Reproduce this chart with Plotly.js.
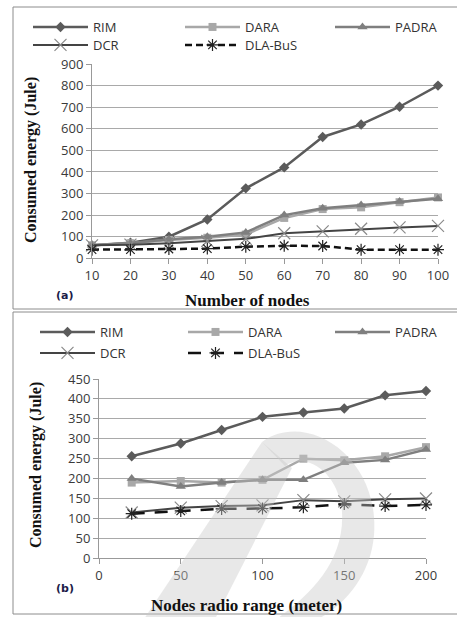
<!DOCTYPE html>
<html>
<head>
<meta charset="utf-8">
<script src="https://cdn.plot.ly/plotly-3.0.1.min.js"></script>
<style>html,body{margin:0;padding:0;background:#fff;}#chart{width:457px;height:617px;}</style>
</head>
<body>
<div id="chart"></div>
<script>
// ---- data ----
const seriesNames = ["RIM", "DARA", "PADRA", "DCR", "DLA-BuS"];

const nodeCounts = [10, 20, 30, 40, 50, 60, 70, 80, 90, 100];
const rimA    = [60, 72, 100, 180, 324, 421, 562, 620, 702, 800];
const daraA   = [60, 70, 85, 95, 110, 187, 228, 236, 260, 282];
const padraA  = [60, 70, 88, 100, 120, 200, 232, 247, 263, 276];
const dcrA    = [60, 63, 70, 80, 90, 116, 125, 137, 143, 150];
const dlaA    = [40, 40, 43, 45, 54, 58, 57, 40, 40, 40];

const radioRange = [20, 50, 75, 100, 125, 150, 175, 200];
const rimB    = [256, 288, 322, 355, 366, 376, 409, 420];
const daraB   = [190, 194, 190, 197, 250, 246, 256, 279];
const padraB  = [200, 180, 190, 197, 197, 240, 247, 273];
const dcrB    = [115, 127, 131, 133, 146, 143, 148, 150];
const dlaB    = [112, 119, 124, 125, 128, 136, 131, 134];

const yTicksA = [0, 100, 200, 300, 400, 500, 600, 700, 800, 900];
const yTicksB = [0, 50, 100, 150, 200, 250, 300, 350, 400, 450];
const xTicksB = [0, 50, 100, 150, 200];

// ---- styles ----
const styles = [
  {color: "#5b5b5b", symbol: "diamond", msize: 8, mcolor: "#5b5b5b", dash: "solid", width: 2.5},
  {color: "#a8a8a8", symbol: "square", msize: 8, mcolor: "#a8a8a8", dash: "solid", width: 2.5},
  {color: "#7f7f7f", symbol: "triangle-up", msize: 9, mcolor: "#7f7f7f", dash: "solid", width: 2.5},
  {color: "#444444", symbol: "x-thin-open", msize: 12, mcolor: "#8a8a8a", dash: "solid", width: 2},
  {color: "#111111", symbol: "asterisk-open", msize: 10, mcolor: "#222222", dash: "solid", width: 2.5}
];

// legend placement (pixels, left/top of each legend box) per panel
const W = 457, H = 617;
const px = v => v / W, py = v => 1 - v / H;
const legPosA = [[28, 12], [180, 12], [330, 12], [28, 30], [180, 30]];
const legPosB = [[35, 317], [183, 317], [330, 317], [35, 338], [183, 338]];

function legName(k) { return k === 0 ? "legend" : "legend" + (k + 1); }

function mk(x, y, i, xa, ya, leg, dash) {
  const s = styles[i];
  return {
    type: "scatter", mode: "lines+markers", x: x, y: y, name: seriesNames[i],
    xaxis: xa, yaxis: ya, legend: leg, cliponaxis: false,
    line: {color: s.color, width: s.width, dash: dash || s.dash},
    marker: {symbol: s.symbol, size: s.msize, color: s.mcolor,
             line: {color: s.mcolor, width: (s.symbol.indexOf("open") >= 0 ? 1.2 : 0)}}
  };
}

const seriesA = [rimA, daraA, padraA, dcrA, dlaA];
const seriesB = [rimB, daraB, padraB, dcrB, dlaB];
const traces = [];
seriesA.forEach((y, i) => traces.push(mk(nodeCounts, y, i, "x", "y", legName(i), i === 4 ? "7px,4px" : null)));
seriesB.forEach((y, i) => traces.push(mk(radioRange, y, i, "x2", "y2", legName(5 + i), i === 4 ? "13px,10px" : null)));

function pth(pts) {
  return pts.map(p => p[0] + px(p[1]).toFixed(4) + "," + py(p[2]).toFixed(4)).join(" ") + " Z";
}

const tickFont = {family: "Open Sans, DejaVu Sans, sans-serif", size: 13, color: "#3a3a3a"};
const gridC = "#a9a9a9";
function yax(domain, range, ticks, anchor) {
  return {domain: domain, range: range, tickvals: ticks, anchor: anchor, showgrid: true, gridcolor: gridC, gridwidth: 1,
    showline: true, linecolor: "#999", linewidth: 1, ticks: "outside", ticklen: 5, tickcolor: "#999",
    tickfont: tickFont, zeroline: false, fixedrange: true};
}
function xax(domain, range, ticks, anchor) {
  return {domain: domain, range: range, tickvals: ticks, anchor: anchor, showgrid: false,
    showline: true, linecolor: "#999", linewidth: 1, ticks: "outside", ticklen: 5, tickcolor: "#999",
    tickfont: tickFont, zeroline: false, fixedrange: true};
}

const borderC = "#8c8c8c";
function hline(x0, x1, y) { return {type: "line", xref: "paper", yref: "paper", x0: px(x0), x1: px(x1), y0: py(y), y1: py(y), line: {color: borderC, width: 1}}; }
function vline(x, y0, y1) { return {type: "line", xref: "paper", yref: "paper", x0: px(x), x1: px(x), y0: py(y0), y1: py(y1), line: {color: borderC, width: 1}}; }
const P = (x, y) => px(x).toFixed(4) + "," + py(y).toFixed(4);
const shapes = [
  hline(13, 457, 7), vline(13, 7, 309), hline(13, 457, 309),
  hline(13, 457, 312), vline(13, 312, 614), hline(13, 457, 614),
  // watermark
  {type: "path", xref: "paper", yref: "paper", layer: "above", opacity: 0.42, fillcolor: "#c8c8c8", line: {width: 0},
   path: pth([["M", 140, 625], ["L", 212, 625], ["L", 292, 468], ["L", 262, 442]])},
  {type: "path", xref: "paper", yref: "paper", layer: "above", opacity: 0.42, fillcolor: "#c8c8c8", line: {width: 0},
   path: "M" + P(262, 442) + " C" + P(305, 410) + " " + P(380, 455) + " " + P(374, 535) +
         " C" + P(370, 585) + " " + P(330, 620) + " " + P(300, 625) + " L" + P(268, 625) +
         " C" + P(305, 600) + " " + P(345, 565) + " " + P(342, 512) +
         " C" + P(338, 470) + " " + P(305, 452) + " " + P(285, 466) + " Z"}
];

const titleFont = {family: "Liberation Serif, Times New Roman, serif", size: 17, color: "#111"};
const yTitleFont = {family: "Liberation Serif, Times New Roman, serif", size: 16, color: "#111"};
const tagFont = {family: "DejaVu Sans, sans-serif", size: 11, color: "#1c1c48"};
const annotations = [
  {text: "<b>Number of nodes</b>", xref: "paper", yref: "paper", x: px(247), y: py(300), showarrow: false, font: titleFont, xanchor: "center", yanchor: "middle"},
  {text: "<b>Nodes radio range (meter)</b>", xref: "paper", yref: "paper", x: px(246), y: py(605), showarrow: false, font: titleFont, xanchor: "center", yanchor: "middle"},
  {text: "<b>Consumed energy (Jule)</b>", xref: "paper", yref: "paper", x: px(31), y: py(160), textangle: -90, showarrow: false, font: yTitleFont, xanchor: "center", yanchor: "middle"},
  {text: "<b>Consumed energy (Jule)</b>", xref: "paper", yref: "paper", x: px(36), y: py(465), textangle: -90, showarrow: false, font: yTitleFont, xanchor: "center", yanchor: "middle"},
  {text: "<b>(a)</b>", xref: "paper", yref: "paper", x: px(54), y: py(295), showarrow: false, font: tagFont},
  {text: "<b>(b)</b>", xref: "paper", yref: "paper", x: px(54), y: py(597), showarrow: false, font: tagFont}
];

const legFont = {family: "Open Sans, DejaVu Sans, sans-serif", size: 13, color: "#333"};
const layout = {
  width: W, height: H,
  margin: {l: 0, r: 0, t: 0, b: 0},
  paper_bgcolor: "#fff", plot_bgcolor: "rgba(0,0,0,0)",
  showlegend: true,
  xaxis: xax([px(92), px(438)], [10, 100], nodeCounts, "y"),
  yaxis: yax([py(258.3), py(64)], [0, 900], yTicksA, "x"),
  xaxis2: xax([px(99), px(426)], [0, 200], xTicksB, "y2"),
  yaxis2: yax([py(558.3), py(379)], [0, 450], yTicksB, "x2"),
  shapes: shapes,
  annotations: annotations
};
legPosA.concat(legPosB).forEach((p, k) => {
  layout[legName(k)] = {orientation: "v", x: px(p[0]), y: py(p[1]), xanchor: "left", yanchor: "top",
    itemwidth: 55, font: legFont, bgcolor: "rgba(0,0,0,0)", borderwidth: 0};
});

Plotly.newPlot("chart", traces, layout, {displayModeBar: false, staticPlot: true});
</script>
</body>
</html>
